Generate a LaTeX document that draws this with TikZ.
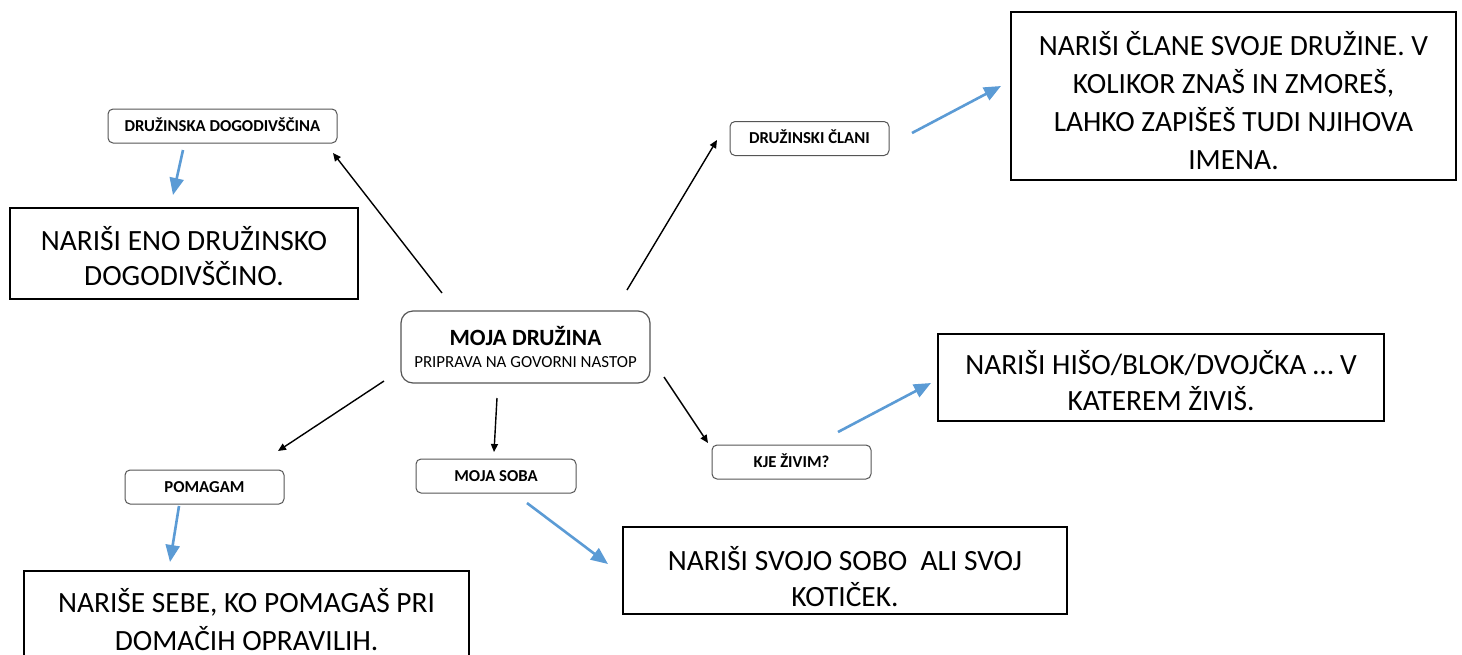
\documentclass[tikz,border=0pt]{standalone}
\usepackage{fontspec}
\setmainfont{Carlito}
\usetikzlibrary{arrows.meta}
\definecolor{arrowblue}{HTML}{5B9BD5}
\definecolor{boxgray}{HTML}{555555}
\newcommand\mytopstrut[1]{\rule{0pt}{#1pt}}
\newcommand\mybotstrut[1]{\rule[-#1pt]{0pt}{#1pt}}
\tikzset{
  bigbox/.style={draw=black, line width=2pt, minimum width=#1, inner sep=0pt, align=center},
  smallbox/.style={draw=boxgray, line width=1pt, rounded corners=5pt, minimum width=#1,
    minimum height=34pt, inner sep=0pt, text height=10.8pt, text depth=0pt,
    font=\fontsize{16.7}{20}\selectfont\bfseries},
  blackarrow/.style={draw=black, line width=1.4pt, -{Triangle[length=8pt,width=7pt]}},
  bluearrow/.style={draw=arrowblue, line width=2.6pt, -{Triangle[length=17pt,width=14pt]}},
}
\begin{document}
\begin{tikzpicture}[x=1pt,y=-1pt]
\useasboundingbox[fill=white] (0,0) rectangle (1462,654);

% central node
\node[draw=boxgray, line width=1.2pt, rounded corners=12pt, minimum width=249pt, minimum height=72pt,
  inner sep=0pt, align=center, font=\fontsize{16.9}{22.7}\selectfont] (center) at (525.5,347)
  {\mytopstrut{23.7}{\fontsize{23.3}{22.7}\selectfont\bfseries MOJA DRUŽINA}\\PRIPRAVA NA GOVORNI NASTOP\mybotstrut{5}};

% small rounded boxes
\node[smallbox=229pt] (dd) at (222.5,126) {DRUŽINSKA DOGODIVŠČINA};
\node[smallbox=159pt] (clani) at (809.5,138.5) {DRUŽINSKI ČLANI};
\node[smallbox=159pt] (kje) at (791.5,462) {KJE ŽIVIM?};
\node[smallbox=160pt] (soba) at (496,476) {MOJA SOBA};
\node[smallbox=159pt] (pomagam) at (204.5,487) {POMAGAM};

% big boxes
\node[bigbox=348pt, minimum height=91pt, font=\fontsize{29.4}{35}\selectfont] (bdd) at (184,253.5)
  {\mytopstrut{39}NARIŠI ENO DRUŽINSKO\\DOGODIVŠČINO.\mybotstrut{10}};
\node[bigbox=445pt, minimum height=168pt, font=\fontsize{29.4}{38}\selectfont] (bclani) at (1233.5,96)
  {\mytopstrut{43}NARIŠI ČLANE SVOJE DRUŽINE. V\\KOLIKOR ZNAŠ IN ZMOREŠ,\\LAHKO ZAPIŠEŠ TUDI NJIHOVA\\IMENA.\mybotstrut{10}};
\node[bigbox=446pt, minimum height=87pt, font=\fontsize{29.4}{36}\selectfont] (bkje) at (1161,377.5)
  {\mytopstrut{40}NARIŠI HIŠO/BLOK/DVOJČKA … V\\KATEREM ŽIVIŠ.\mybotstrut{10}};
\node[bigbox=444pt, minimum height=87pt, font=\fontsize{29.4}{36}\selectfont] (bsoba) at (845,570.5)
  {\mytopstrut{41}NARIŠI SVOJO SOBO\ \ ALI SVOJ\\KOTIČEK.\mybotstrut{5}};
\node[bigbox=445pt, anchor=north, font=\fontsize{29.4}{38}\selectfont] (bpom) at (246.5,570)
  {\mytopstrut{41.5}NARIŠE SEBE, KO POMAGAŠ PRI\\DOMAČIH OPRAVILIH.\mybotstrut{20.5}};

% arrow end coordinates
\coordinate (c1s) at (442,293);  \coordinate (c1e) at (333,153);
\coordinate (c2s) at (627,290);  \coordinate (c2e) at (717,140);
\coordinate (c3s) at (664,377);  \coordinate (c3e) at (708,443);
\coordinate (c4s) at (497,398);  \coordinate (c4e) at (494,452);
\coordinate (c5s) at (384,381);  \coordinate (c5e) at (278,451);

\coordinate (b1s) at (183,150);  \coordinate (b1e) at (173,195);
\coordinate (b2s) at (912,133);  \coordinate (b2e) at (1001,86);
\coordinate (b3s) at (838,432);  \coordinate (b3e) at (931,383);
\coordinate (b4s) at (527,503);  \coordinate (b4e) at (608,564);
\coordinate (b5s) at (179,506);  \coordinate (b5e) at (170,562);

\draw[blackarrow] (c1s) -- (c1e);
\draw[blackarrow] (c2s) -- (c2e);
\draw[blackarrow] (c3s) -- (c3e);
\draw[blackarrow] (c4s) -- (c4e);
\draw[blackarrow] (c5s) -- (c5e);

\draw[bluearrow] (b1s) -- (b1e);
\draw[bluearrow] (b2s) -- (b2e);
\draw[bluearrow] (b3s) -- (b3e);
\draw[bluearrow] (b4s) -- (b4e);
\draw[bluearrow] (b5s) -- (b5e);
\end{tikzpicture}
\end{document}
